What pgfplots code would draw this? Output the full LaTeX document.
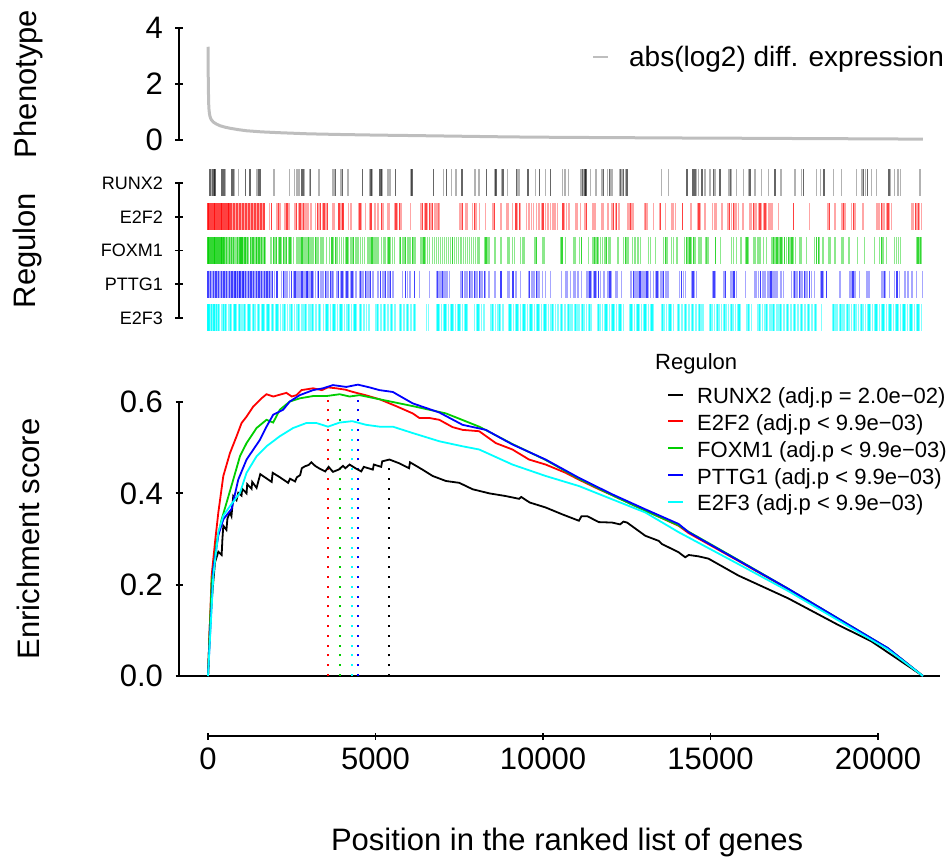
\documentclass[border=0pt]{standalone}
\usepackage{fontspec}
\setmainfont{Liberation Sans}
\usepackage{pgfplots}
\pgfplotsset{compat=1.18}
\definecolor{rgreen}{RGB}{0,205,0}
\definecolor{rcyan}{RGB}{0,255,255}
\definecolor{rblue}{RGB}{0,0,255}
\definecolor{rred}{RGB}{255,0,0}
\definecolor{pgray}{RGB}{190,190,190}
\newcommand{\fbig}{\fontsize{31pt}{37pt}\selectfont}
\newcommand{\flab}{\fontsize{18pt}{22pt}\selectfont}
\newcommand{\fleg}{\fontsize{22pt}{26pt}\selectfont}
\newcommand{\ftop}{\fontsize{28pt}{33pt}\selectfont}
\pgfplotsset{
  rstyle/.style={scale only axis, clip=false,
    axis line style={-, line width=1.8pt},
    tick style={line width=1.8pt, black},
    major tick length=7pt, tick align=outside,
    /pgf/number format/assume math mode=true},
  noarrow/.style={x axis line style={-}, y axis line style={-}},
  rx/.style={xmin=-866, xmax=21552, width=751pt},
  bc/.style 2 args={only marks, mark=|, mark size=13.5pt, color=#1,
    mark options={line width=1.4pt, draw=#1, draw opacity=#2}},
}
\begin{document}
\begin{tikzpicture}
\path (0pt,0pt) rectangle (952pt,860pt);

% ---------------- Phenotype panel ----------------
\begin{axis}[rstyle, rx, at={(179pt,720pt)}, anchor=south west, height=112pt,
  ymin=0, ymax=4, ytick={0,2,4}, axis y line=left, axis x line=none, noarrow,
  yticklabel style={font=\fbig, xshift=-9pt},
  ylabel={Phenotype}, ylabel style={font=\fbig, at={(axis description cs:-0.2004,0.5)}, anchor=center},
  legend style={draw=none, fill=none, font=\ftop, at={(axis description cs:0.5499,0.839)}, anchor=north west,
    column sep=20pt, inner sep=0pt, nodes={inner sep=0pt, text height=20pt, text depth=6pt}},
  legend cell align=left,
  legend image code/.code={\draw[#1, line width=2pt] (0pt,0.26em) -- (15pt,0.26em);}]
\addplot[pgray, line width=3pt] coordinates {(0,3.33) (5,2.5) (10,1.9) (20,1.3) (30,1.08) (45,0.93) (60,0.84) (80,0.77) (100,0.72) (130,0.68) (160,0.64) (250,0.57) (357,0.51) (500,0.46) (655,0.42) (900,0.37) (1151,0.33) (1600,0.29) (2143,0.26) (3000,0.22) (4000,0.195) (5000,0.175) (6000,0.16) (7500,0.135) (9000,0.11) (10476,0.095) (12000,0.085) (14000,0.072) (16000,0.062) (18000,0.05) (20000,0.04) (21340,0.03)};
\addlegendentry{abs(log2) diff. expression}
\end{axis}

% ---------------- Regulon barcode panel ----------------
\begin{axis}[rstyle, rx, at={(179pt,542pt)}, anchor=south west, height=135pt,
  ymin=1, ymax=5, ytick={1,2,3,4,5}, yticklabels={E2F3,PTTG1,FOXM1,E2F2,RUNX2},
  axis y line=left, axis x line=none, noarrow,
  yticklabel style={font=\flab, xshift=-9pt},
  ylabel={Regulon}, ylabel style={font=\fbig, at={(axis description cs:-0.2017,0.5)}, anchor=center}]
% RUNX2
\addplot[bc={black}{0.3}] table[row sep=\\, y expr=5] {x\\110\\516\\784\\913\\1468\\1964\\2440\\2589\\2659\\2718\\2887\\3036\\3313\\3730\\3770\\3968\\4176\\4821\\4901\\5198\\5367\\5436\\6061\\7033\\7271\\7400\\7966\\8095\\8561\\8769\\8938\\9255\\9305\\9781\\10079\\10575\\10655\\10754\\11131\\11210\\11418\\11587\\11766\\11924\\12033\\12083\\12281\\12361\\12460\\13531\\13750\\14583\\14642\\14841\\14990\\15138\\15555\\15634\\15783\\15982\\16130\\16329\\16527\\16726\\17103\\17519\\17718\\18164\\18283\\18670\\18908\\19354\\19523\\19622\\19801\\19950\\20366\\20495\\20594\\20674\\21259\\};
\addplot[bc={black}{0.6}] table[row sep=\\, y expr=5] {x\\40\\80\\140\\180\\210\\397\\437\\476\\714\\754\\1121\\1250\\1508\\1548\\2788\\2837\\3065\\3809\\4008\\4603\\4861\\5119\\5168\\5595\\6091\\6736\\7123\\7579\\8313\\8591\\8809\\9216\\9553\\9900\\10228\\11170\\11250\\11289\\11805\\11984\\12321\\12400\\12510\\14295\\14464\\14504\\14543\\14742\\15089\\15287\\15595\\16180\\16924\\17767\\18392\\19573\\19682\\20327\\};
% E2F2
\addplot[bc={rred}{0.35}] table[row sep=\\, y expr=4] {x\\730\\820\\910\\1000\\1090\\1180\\1270\\1360\\1450\\1540\\1630\\1840\\2060\\2150\\2300\\2420\\2600\\2700\\2800\\2900\\2950\\3000\\3080\\3210\\3310\\3410\\3520\\3730\\3780\\3960\\4000\\4190\\4270\\4500\\4580\\4700\\4820\\4980\\5080\\5220\\5370\\5420\\5560\\5660\\5760\\6050\\6360\\6460\\6560\\6660\\6760\\6810\\6860\\6900\\7500\\7550\\7700\\7750\\7900\\8000\\8110\\8290\\8510\\8740\\8910\\8960\\9090\\9240\\9330\\9500\\9580\\9650\\9720\\9800\\9880\\9950\\10080\\10150\\10220\\10300\\10360\\10430\\10650\\10700\\10770\\10970\\11020\\11120\\11250\\11470\\11510\\11550\\11750\\11790\\11920\\11960\\12060\\12160\\12250\\12290\\12540\\12580\\12660\\12700\\13040\\13080\\13120\\13300\\13470\\13650\\13850\\13900\\13950\\14420\\14620\\14700\\14840\\15060\\15110\\15160\\15340\\15520\\15620\\15730\\15780\\15830\\15950\\15990\\16180\\16230\\16330\\16380\\16430\\16530\\16580\\16680\\16730\\16780\\16830\\17030\\17950\\18510\\18710\\18930\\19010\\19210\\19300\\19330\\19550\\19950\\20000\\20050\\20150\\20200\\20250\\20350\\20400\\21010\\21060\\21160\\21240\\21290\\};
\addplot[bc={rred}{0.75}] table[row sep=\\, y expr=4] {x\\0\\35\\70\\105\\140\\175\\210\\245\\280\\315\\350\\385\\420\\455\\490\\525\\560\\595\\630\\665\\700\\775\\865\\955\\1045\\1135\\1225\\1315\\1405\\1495\\1585\\1675\\1890\\2110\\2360\\2650\\2750\\2850\\3260\\3360\\3460\\3570\\3910\\4030\\4540\\4860\\5170\\5610\\5710\\6410\\6510\\6610\\6710\\7600\\7950\\8560\\9190\\9290\\10000\\10600\\11290\\12110\\12200\\12620\\13510\\14170\\14660\\15570\\15680\\16280\\16480\\16630\\17470\\18560\\18970\\19260\\20100\\20300\\21110\\21200\\};
% FOXM1
\addplot[bc={rgreen}{0.45}] table[row sep=\\, y expr=3] {x\\470\\530\\590\\620\\670\\730\\790\\830\\910\\990\\1050\\1130\\1210\\1300\\1380\\1430\\1480\\1560\\1640\\1700\\1860\\1900\\2000\\2100\\2200\\2300\\2400\\2500\\2560\\2640\\2690\\2750\\2850\\2900\\2950\\3050\\3100\\3150\\3250\\3300\\3350\\3400\\3450\\3530\\3630\\3750\\3850\\3920\\3980\\4050\\4100\\4200\\4250\\4300\\4400\\4450\\4500\\4560\\4620\\4670\\4770\\4830\\4950\\5020\\5080\\5170\\5250\\5300\\5350\\5450\\5500\\5570\\5710\\5800\\5850\\5950\\6000\\6050\\6150\\6190\\6360\\6400\\6500\\6550\\6610\\6700\\6760\\6820\\6880\\6940\\7000\\7060\\7120\\7180\\7240\\7360\\7420\\7480\\7550\\7620\\7680\\7740\\7800\\7860\\7920\\7980\\8040\\8090\\8260\\8340\\8390\\8570\\8740\\8940\\8990\\9090\\9140\\9330\\9380\\9430\\9760\\9980\\10030\\10530\\10670\\10920\\10970\\11090\\11350\\11490\\11580\\11650\\11720\\11770\\11850\\11950\\12000\\12240\\12410\\12510\\12560\\12680\\12740\\12840\\12910\\13150\\13200\\13350\\13600\\13700\\13830\\13900\\14000\\14230\\14330\\14440\\14540\\14660\\14720\\14860\\14900\\14940\\15290\\15630\\15680\\15780\\15910\\16050\\16130\\16280\\16330\\16410\\16450\\16490\\16580\\16680\\16830\\16930\\17040\\17150\\17260\\17370\\17480\\17540\\17670\\17720\\17870\\18110\\18260\\18360\\18530\\18570\\18710\\18930\\18970\\19130\\19380\\19600\\19900\\20050\\20150\\20250\\20500\\20560\\20610\\20670\\21140\\21230\\21290\\};
\addplot[bc={rgreen}{0.8}] table[row sep=\\, y expr=3] {x\\0\\35\\70\\105\\140\\175\\210\\245\\280\\315\\350\\385\\420\\455\\500\\560\\640\\700\\760\\880\\960\\1020\\1100\\1180\\1260\\1340\\1450\\1520\\1600\\1680\\1950\\2050\\2150\\2250\\2350\\2450\\2800\\3000\\3200\\3700\\3800\\4150\\4350\\4900\\5400\\5750\\5900\\6100\\6450\\7300\\8300\\9800\\10570\\11140\\11540\\11620\\11900\\12460\\13650\\14280\\14390\\14500\\15140\\16090\\16880\\16990\\17100\\17210\\17320\\17430\\18160\\18230\\20100\\21190\\21270\\};
% PTTG1
\addplot[bc={rblue}{0.35}] table[row sep=\\, y expr=2] {x\\40\\120\\200\\280\\360\\440\\520\\600\\680\\760\\840\\920\\1000\\1080\\1160\\1240\\1320\\1400\\1480\\1560\\1640\\1720\\1800\\1880\\1990\\2190\\2300\\2360\\2440\\2550\\2650\\2690\\2740\\2850\\2900\\2990\\3040\\3150\\3210\\3280\\3350\\3400\\3450\\3550\\3600\\3700\\3730\\3850\\3950\\4050\\4100\\4200\\4250\\4350\\4420\\4520\\4600\\4650\\4750\\4800\\4920\\5070\\5200\\5250\\5350\\5400\\5520\\5810\\5960\\6030\\6310\\6610\\6820\\6900\\6950\\7050\\7100\\7150\\7200\\7550\\7650\\7700\\7750\\7850\\7900\\8000\\8050\\8150\\8200\\8290\\8390\\8570\\8940\\8990\\9190\\9330\\9560\\9650\\9700\\9750\\9850\\9900\\9980\\10080\\10230\\10560\\10690\\10730\\10820\\10920\\10970\\11050\\11150\\11290\\11340\\11450\\11500\\11600\\11720\\11820\\11940\\12040\\12160\\12210\\12340\\12610\\12650\\12750\\12800\\12850\\12950\\13000\\13050\\13150\\13200\\13300\\13350\\13450\\13500\\13550\\13650\\13700\\13750\\14070\\14190\\14250\\14430\\14530\\14580\\15060\\15140\\15400\\15610\\15650\\15770\\16050\\16330\\16380\\16430\\16550\\16600\\16650\\16700\\16750\\16850\\16900\\16950\\17000\\17100\\17170\\17420\\17470\\17550\\17600\\17700\\17750\\17850\\17900\\18020\\18110\\18290\\18380\\18860\\19160\\19210\\19310\\19450\\19650\\19700\\19750\\20120\\20160\\20220\\20350\\20500\\20640\\20810\\20890\\21010\\21140\\21320\\};
\addplot[bc={rblue}{0.75}] table[row sep=\\, y expr=2] {x\\0\\80\\160\\240\\320\\400\\480\\560\\640\\720\\800\\880\\960\\1040\\1120\\1200\\1280\\1360\\1440\\1520\\1600\\1680\\1760\\1840\\1920\\2060\\2250\\2500\\2600\\2800\\2950\\3100\\3300\\3500\\3650\\3900\\4000\\4150\\4300\\4550\\4700\\4850\\5150\\5300\\5450\\5900\\6160\\6850\\7000\\7600\\7800\\7950\\8100\\8250\\8740\\9110\\9600\\9800\\11400\\11550\\11650\\12000\\12700\\12900\\13100\\13400\\13600\\14130\\14480\\15100\\15440\\15700\\16500\\16800\\17500\\17650\\17800\\17950\\18330\\18470\\19250\\20200\\20570\\};
% E2F3
\addplot[bc={rcyan}{0.5}] table[row sep=\\, y expr=1] {x\\0\\70\\140\\210\\280\\350\\420\\490\\560\\630\\700\\770\\840\\910\\980\\1050\\1120\\1190\\1260\\1330\\1400\\1470\\1540\\1610\\1680\\1750\\1820\\1890\\1960\\2030\\2100\\2170\\2240\\2310\\2380\\2450\\2520\\2590\\2660\\2730\\2800\\2870\\2940\\3010\\3080\\3150\\3220\\3290\\3360\\3450\\3520\\3590\\3660\\3730\\3800\\3870\\3940\\4010\\4080\\4150\\4220\\4290\\4360\\4420\\4520\\4590\\4660\\4730\\4800\\5020\\5090\\5160\\5230\\5300\\5370\\5440\\5510\\5580\\5710\\5780\\5850\\5920\\5990\\6060\\6130\\6200\\6520\\6590\\6830\\6900\\6970\\7040\\7110\\7180\\7250\\7320\\7390\\7460\\7530\\7600\\7670\\7740\\7960\\8030\\8100\\8170\\8240\\8450\\8520\\8590\\8660\\8730\\8800\\8980\\9050\\9120\\9190\\9260\\9330\\9400\\9470\\9540\\9610\\9680\\9750\\9820\\9890\\9960\\10030\\10100\\10170\\10240\\10310\\10380\\10450\\10520\\10590\\10660\\10730\\10800\\10870\\10940\\11010\\11080\\11150\\11220\\11290\\11360\\11430\\11630\\11700\\11770\\11840\\11910\\11980\\12050\\12120\\12190\\12260\\12330\\12400\\12590\\12660\\12730\\12800\\12870\\12940\\13010\\13080\\13150\\13220\\13290\\13540\\13610\\13680\\13750\\13820\\13890\\14010\\14080\\14150\\14220\\14290\\14360\\14430\\14500\\14570\\14640\\14710\\14780\\14970\\15040\\15110\\15180\\15250\\15320\\15390\\15460\\15530\\15600\\15670\\15740\\15810\\15880\\16090\\16160\\16220\\16420\\16490\\16560\\16630\\16700\\16770\\16840\\16910\\16980\\17050\\17120\\17190\\17260\\17330\\17400\\17470\\17540\\17610\\17680\\17750\\17820\\17890\\17960\\18030\\18100\\18170\\18310\\18640\\18710\\18780\\18850\\18920\\18990\\19060\\19130\\19200\\19270\\19340\\19410\\19480\\19550\\19620\\19690\\19760\\19830\\19900\\19970\\20040\\20110\\20180\\20250\\20320\\20390\\20460\\20530\\20600\\20670\\20740\\20810\\20880\\20950\\21020\\21090\\21160\\21230\\21290\\};
\addplot[bc={rcyan}{0.9}] table[row sep=\\, y expr=1] {x\\0\\35\\105\\175\\245\\315\\455\\525\\665\\805\\945\\1085\\1225\\1365\\1505\\1645\\1785\\1925\\2065\\2275\\2485\\2695\\2905\\3115\\3325\\3555\\3765\\3975\\4185\\4385\\4555\\5055\\5265\\5475\\5745\\5955\\6165\\6865\\7075\\7285\\7495\\7705\\8065\\8485\\8695\\9015\\9225\\9435\\9645\\9855\\10065\\10275\\10555\\10765\\10975\\11185\\11395\\11665\\11875\\12085\\12295\\12625\\12835\\13045\\13255\\13575\\13785\\14045\\14255\\14465\\14675\\15005\\15215\\15425\\15635\\15845\\16125\\16455\\16665\\16875\\17085\\17295\\17505\\17715\\17925\\18135\\18675\\18885\\19095\\19305\\19515\\19725\\19935\\20145\\20355\\20565\\20775\\20985\\21195\\};
\end{axis}

% ---------------- Enrichment panel ----------------
\begin{axis}[rstyle, rx, at={(179pt,184pt)}, anchor=south west, height=274pt,
  ymin=0, ymax=0.6, ytick={0,0.2,0.4,0.6}, axis y line=left, axis x line=none, noarrow,
  yticklabel style={font=\fbig, xshift=-9pt, /pgf/number format/.cd, fixed, fixed zerofill, precision=1},
  ylabel={Enrichment score}, ylabel style={font=\fbig, at={(axis description cs:-0.2004,0.5)}, anchor=center},
  legend style={draw=none, fill=none, font=\fleg, at={(axis description cs:0.6498,1.0529)}, anchor=north west,
    column sep=13pt, row sep=5.8pt, inner sep=0pt, nodes={inner sep=0pt, text height=16pt, text depth=5pt}},
  legend cell align=left,
  legend image code/.code={\draw[#1, line width=2pt] (0pt,0.36em) -- (15pt,0.36em);}]
\addplot[black, line width=2pt, forget plot] coordinates {(-866,0) (21850,0)};
% dotted peak markers
\addplot[rred, line width=2pt, dash pattern=on 2pt off 7.8pt, forget plot] coordinates {(3581,0) (3581,0.605)};
\addplot[rgreen, line width=2pt, dash pattern=on 2pt off 7.8pt, forget plot] coordinates {(3929,0) (3929,0.60)};
\addplot[rcyan, line width=2pt, dash pattern=on 2pt off 7.8pt, forget plot] coordinates {(4306,0) (4306,0.54)};
\addplot[rblue, line width=2pt, dash pattern=on 2pt off 7.8pt, forget plot] coordinates {(4474,0) (4474,0.62)};
\addplot[black, line width=2pt, dash pattern=on 2pt off 7.8pt, forget plot] coordinates {(5417,0) (5417,0.466)};
% curves
\addplot[black, line width=1.8pt] coordinates {(0,0) (60,0.12) (109,0.162) (150,0.2) (209,0.249) (308,0.272) (407,0.265) (430,0.30) (457,0.329) (550,0.32) (580,0.345) (655,0.358) (700,0.35) (754,0.394) (850,0.385) (903,0.401) (1000,0.395) (1020,0.41) (1151,0.400) (1170,0.42) (1300,0.41) (1320,0.425) (1450,0.412) (1560,0.442) (1700,0.435) (1900,0.425) (1930,0.445) (2150,0.435) (2391,0.423) (2450,0.432) (2600,0.426) (2650,0.435) (2750,0.44) (2800,0.455) (2887,0.459) (3000,0.462) (3085,0.468) (3200,0.46) (3333,0.454) (3500,0.448) (3600,0.458) (3730,0.447) (3900,0.452) (4028,0.460) (4100,0.455) (4226,0.463) (4400,0.455) (4574,0.448) (4650,0.458) (4920,0.452) (4950,0.463) (5169,0.458) (5200,0.470) (5417,0.474) (5700,0.466) (6000,0.455) (6030,0.468) (6400,0.452) (6706,0.438) (7103,0.427) (7500,0.423) (7897,0.409) (8393,0.400) (8888,0.394) (9285,0.388) (9350,0.392) (9600,0.38) (10079,0.369) (10575,0.354) (11071,0.340) (11150,0.350) (11319,0.350) (11666,0.337) (12062,0.336) (12300,0.332) (12400,0.338) (12509,0.336) (13055,0.307) (13451,0.296) (13551,0.289) (14047,0.271) (14245,0.260) (14350,0.265) (14642,0.262) (14939,0.257) (15832,0.220) (17320,0.170) (18808,0.112) (19800,0.076) (21340,0)};
\addlegendentry{RUNX2 (adj.p = 2.0e\textminus02)}
\addplot[rred, line width=1.8pt] coordinates {(0,0) (109,0.22) (209,0.293) (308,0.358) (457,0.438) (655,0.488) (853,0.525) (1002,0.554) (1151,0.568) (1349,0.590) (1597,0.608) (1746,0.617) (1950,0.612) (2143,0.616) (2341,0.620) (2500,0.612) (2639,0.615) (2788,0.626) (3135,0.630) (3400,0.626) (3581,0.632) (3829,0.630) (4100,0.627) (4325,0.622) (4700,0.615) (5119,0.606) (5615,0.591) (6111,0.575) (6309,0.565) (6607,0.565) (6904,0.561) (7300,0.545) (7599,0.539) (8095,0.536) (8591,0.510) (9087,0.496) (9583,0.474) (10079,0.463) (10674,0.445) (11071,0.430) (11666,0.409) (12062,0.396) (13055,0.362) (14047,0.329) (14344,0.313) (15832,0.252) (17320,0.19) (18808,0.125) (20296,0.06) (21340,0)};
\addlegendentry{E2F2 (adj.p < 9.9e\textminus03)}
\addplot[rgreen, line width=1.8pt] coordinates {(0,0) (109,0.206) (258,0.293) (407,0.343) (556,0.380) (754,0.430) (953,0.481) (1151,0.510) (1449,0.543) (1746,0.561) (1945,0.555) (2143,0.583) (2441,0.601) (2738,0.608) (3135,0.613) (3532,0.613) (3929,0.617) (4226,0.612) (4524,0.615) (5119,0.606) (6111,0.591) (7103,0.575) (8095,0.546) (9087,0.508) (10079,0.473) (11071,0.432) (12062,0.396) (13055,0.362) (14047,0.330) (14344,0.316) (15832,0.254) (17320,0.191) (18808,0.126) (20296,0.061) (21340,0)};
\addlegendentry{FOXM1 (adj.p < 9.9e\textminus03)}
\addplot[rblue, line width=1.8pt] coordinates {(0,0) (159,0.235) (308,0.308) (457,0.343) (704,0.366) (903,0.430) (1151,0.474) (1548,0.517) (1746,0.546) (1945,0.572) (2242,0.583) (2441,0.601) (2738,0.615) (3135,0.626) (3433,0.630) (3730,0.637) (4127,0.633) (4474,0.638) (4821,0.632) (5119,0.626) (5516,0.622) (6111,0.597) (6905,0.577) (7599,0.55) (8293,0.539) (9087,0.507) (10079,0.474) (11071,0.434) (12062,0.398) (13055,0.365) (14047,0.333) (14344,0.315) (15832,0.253) (17320,0.191) (18808,0.126) (20296,0.061) (21340,0)};
\addlegendentry{PTTG1 (adj.p < 9.9e\textminus03)}
\addplot[rcyan, line width=1.8pt] coordinates {(0,0) (159,0.22) (308,0.315) (457,0.351) (655,0.372) (953,0.401) (1151,0.445) (1449,0.481) (1746,0.503) (2143,0.525) (2540,0.543) (2937,0.554) (3234,0.554) (3581,0.546) (3929,0.555) (4306,0.558) (4722,0.550) (5119,0.546) (5516,0.546) (6111,0.532) (6905,0.514) (7599,0.503) (8095,0.496) (9087,0.463) (10079,0.438) (11071,0.416) (12062,0.387) (13055,0.358) (14047,0.315) (15832,0.245) (17320,0.186) (18808,0.122) (20296,0.058) (21340,0)};
\addlegendentry{E2F3 (adj.p < 9.9e\textminus03)}
\node[anchor=base west, font=\fleg, inner sep=0pt] at (axis description cs:0.6338,1.1168) {Regulon};
\end{axis}

% ---------------- Bottom x axis ----------------
\begin{axis}[rstyle, at={(208pt,124pt)}, anchor=south west, width=670pt, height=10pt,
  xmin=0, xmax=20000, ymin=0, ymax=1, axis x line=bottom, axis y line=none, noarrow,
  xtick={0,5000,10000,15000,20000}, scaled x ticks=false,
  xticklabel style={font=\fbig, yshift=-5pt, /pgf/number format/.cd, set thousands separator={}},
  xlabel={Position in the ranked list of genes},
  xlabel style={font=\fbig, at={(axis description cs:0.536,-11.4)}, anchor=base}]
\addplot[draw=none] coordinates {(0,0)};
\end{axis}
\end{tikzpicture}
\end{document}
